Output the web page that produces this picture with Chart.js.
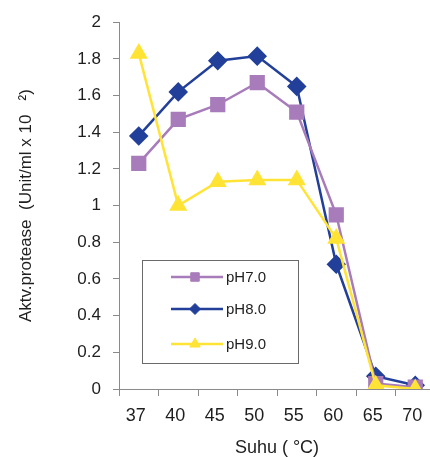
<!DOCTYPE html>
<html>
<head>
<meta charset="utf-8">
<script src="https://cdn.jsdelivr.net/npm/chart.js@4.4.0/dist/chart.umd.min.js"></script>
<style>
  html, body { margin: 0; padding: 0; background: #fff; overflow: hidden; }
  #wrap { width: 436px; height: 457px; }
</style>
</head>
<body>
<div id="wrap"><canvas id="chart" width="436" height="457"></canvas></div>
<script>
// categories (x tick labels as printed) and series values
const temps = ['37', '40', '45', '50', '55', '60', '65', '70'];
const ph70 = [1.23, 1.47, 1.55, 1.67, 1.51, 0.95, 0.03, 0.01];
const ph80 = [1.38, 1.62, 1.79, 1.815, 1.65, 0.68, 0.07, 0.02];
const ph90 = [1.83, 1.00, 1.13, 1.14, 1.14, 0.82, 0.02, 0.00];
const seriesNames = ['pH7.0', 'pH8.0', 'pH9.0'];

const FONT = '"Liberation Sans", Arial, sans-serif';
const AXIS = '#8a8a8a';
const TEXT = '#1e1e1e';

// legend drawn inside the plot, in a framed box
const boxLegend = {
    id: 'boxLegend',
    afterDraw(chart) {
        const ctx = chart.ctx;
        ctx.save();
        ctx.strokeStyle = '#6a6a6a';
        ctx.lineWidth = 1;
        ctx.strokeRect(142.5, 260.5, 156, 103);
        const rows = [277, 309, 344];
        chart.data.datasets.forEach((ds, i) => {
            const y = rows[i];
            ctx.strokeStyle = ds.borderColor;
            ctx.lineWidth = 2.5;
            ctx.beginPath();
            ctx.moveTo(171, y);
            ctx.lineTo(223, y);
            ctx.stroke();
            ctx.fillStyle = ds.pointBackgroundColor;
            ctx.strokeStyle = ds.pointBackgroundColor;
            ctx.lineWidth = 1;
            Chart.helpers.drawPoint(ctx, { pointStyle: ds.pointStyle, radius: ds.legendRadius, rotation: 0, borderWidth: 1 }, 195, y);
            ctx.fillStyle = TEXT;
            ctx.font = '15px ' + FONT;
            ctx.textBaseline = 'middle';
            ctx.textAlign = 'left';
            ctx.fillText(ds.label, 226, y + 1);
        });
        ctx.restore();
    }
};

new Chart(document.getElementById('chart').getContext('2d'), {
    type: 'line',
    data: {
        labels: temps,
        datasets: [{
            label: seriesNames[0],
            data: ph70,
            borderColor: '#a87cba',
            pointBackgroundColor: '#a87cba',
            pointBorderColor: '#a87cba',
            pointStyle: 'rect',
            pointRadius: 9,
            legendRadius: 6,
            borderWidth: 2.5,
            order: 1
        }, {
            label: seriesNames[1],
            data: ph80,
            borderColor: '#22409a',
            pointBackgroundColor: '#22409a',
            pointBorderColor: '#22409a',
            pointStyle: 'rectRot',
            pointRadius: 8,
            legendRadius: 5.5,
            borderWidth: 2.5,
            order: 2
        }, {
            label: seriesNames[2],
            data: ph90,
            borderColor: '#ffe335',
            pointBackgroundColor: '#ffe335',
            pointBorderColor: '#ffe335',
            pointStyle: 'triangle',
            pointRadius: 8,
            legendRadius: 6,
            borderWidth: 2.5,
            order: 0
        }]
    },
    options: {
        responsive: false,
        animation: false,
        layout: { autoPadding: false, padding: { top: 19, right: 1, left: 0, bottom: 0 } },
        plugins: {
            legend: { display: false },
            tooltip: { enabled: false }
        },
        scales: {
            x: {
                offset: true,
                afterFit: s => { s.height = 68; },
                border: { color: AXIS, width: 1 },
                grid: { offset: true, drawOnChartArea: false, color: AXIS, tickLength: 7 },
                ticks: { color: TEXT, font: { family: FONT, size: 18 }, padding: 9, maxRotation: 0, labelOffset: -3 },
                title: { display: true, text: 'Suhu ( \u00B0C)', color: TEXT, font: { family: FONT, size: 18, lineHeight: 1 }, padding: 0 }
            },
            y: {
                min: 0,
                max: 2,
                afterFit: s => { s.width = 119; },
                border: { color: AXIS, width: 1 },
                grid: { drawOnChartArea: false, color: AXIS, tickLength: 6 },
                ticks: {
                    stepSize: 0.2,
                    color: TEXT,
                    font: { family: FONT, size: 17 },
                    padding: 12,
                    callback: v => String(Number(v.toFixed(1)))
                },
                title: { display: true, text: 'Aktv.protease  (Unit/ml x 10   \u00B2)', color: TEXT, font: { family: FONT, size: 17 }, padding: { top: 16, bottom: 0 } }
            }
        }
    },
    plugins: [boxLegend]
});
</script>
</body>
</html>
